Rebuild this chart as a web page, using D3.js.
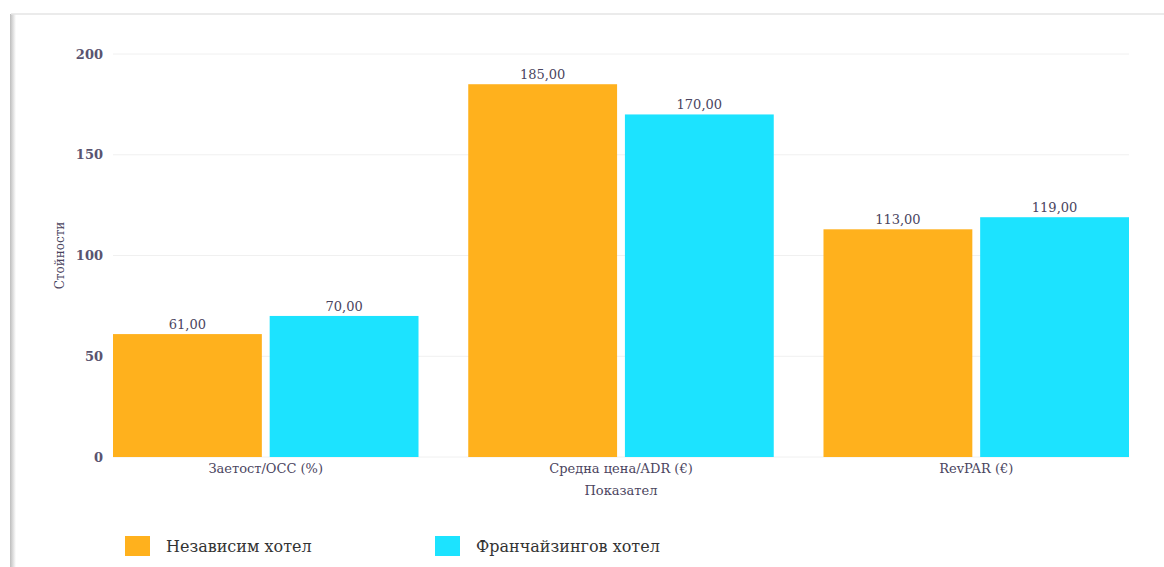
<!DOCTYPE html>
<html>
<head>
<meta charset="utf-8">
<script src="https://cdn.jsdelivr.net/npm/d3@7"></script>
<style>
  body { margin: 0; background: #fff; }
  svg text { font-family: "DejaVu Serif", serif; fill: #4b4560; }
</style>
</head>
<body>
<div id="chart"></div>
<script>
// Data
var categories = ["Заетост/OCC (%)", "Средна цена/ADR (€)", "RevPAR (€)"];
var seriesNames = ["Независим хотел", "Франчайзингов хотел"];
var independent = [61, 185, 113];
var franchise = [70, 170, 119];
var yTicks = [0, 50, 100, 150, 200];
var colors = ["#ffb11d", "#1ce3ff"];

var width = 1164, height = 567;
var margin = {left: 113, right: 35, top: 54, bottom: 110};

var svg = d3.select("#chart").append("svg")
    .attr("width", width)
    .attr("height", height);

// Frame of the card (top and left edges)
var defs = svg.append("defs");
var grad = defs.append("linearGradient").attr("id", "shadow");
grad.append("stop").attr("offset", "0%").attr("stop-color", "#bdbdbd");
grad.append("stop").attr("offset", "100%").attr("stop-color", "#ffffff");
svg.append("rect").attr("x", 10).attr("y", 14).attr("width", 6).attr("height", height - 14)
    .attr("fill", "url(#shadow)");
svg.append("line").attr("x1", 11).attr("x2", width).attr("y1", 14).attr("y2", 14)
    .attr("stroke", "#e4e4e4").attr("stroke-width", 1.5);

var rows = categories.map(function(c, i) {
  return {category: c, values: [independent[i], franchise[i]]};
});

var x0 = d3.scaleBand()
    .domain(categories)
    .range([margin.left, width - margin.right])
    .paddingInner(0.14)
    .paddingOuter(0);

var x1 = d3.scaleBand()
    .domain([0, 1])
    .range([0, x0.bandwidth()])
    .paddingInner(0.05);

var y = d3.scaleLinear()
    .domain([0, 200])
    .range([height - margin.bottom, margin.top]);

// Grid lines
svg.append("g").selectAll("line")
    .data(yTicks)
    .enter().append("line")
    .attr("x1", margin.left)
    .attr("x2", width - margin.right)
    .attr("y1", function(d) { return y(d); })
    .attr("y2", function(d) { return y(d); })
    .attr("stroke", "#f0f0f0")
    .attr("stroke-width", 1);

// Y tick labels
svg.append("g").selectAll("text")
    .data(yTicks)
    .enter().append("text")
    .attr("x", 103)
    .attr("y", function(d) { return y(d); })
    .attr("dy", "0.35em")
    .attr("text-anchor", "end")
    .attr("font-size", 13)
    .attr("font-weight", "bold")
    .style("fill", "#5a5470")
    .text(function(d) { return d; });

// Bars
var groups = svg.append("g").selectAll("g")
    .data(rows)
    .enter().append("g")
    .attr("transform", function(d) { return "translate(" + x0(d.category) + ",0)"; });

groups.selectAll("rect")
    .data(function(d) { return d.values; })
    .enter().append("rect")
    .attr("x", function(d, i) { return x1(i); })
    .attr("y", function(d) { return y(d); })
    .attr("width", x1.bandwidth())
    .attr("height", function(d) { return y(0) - y(d); })
    .attr("fill", function(d, i) { return colors[i]; });

groups.selectAll("text")
    .data(function(d) { return d.values; })
    .enter().append("text")
    .attr("x", function(d, i) { return x1(i) + x1.bandwidth() / 2; })
    .attr("y", function(d) { return y(d) - 5; })
    .attr("text-anchor", "middle")
    .attr("font-size", 13)
    .text(function(d) { return d3.format(".2f")(d).replace(".", ","); });

// X labels
svg.append("g").selectAll("text")
    .data(categories)
    .enter().append("text")
    .attr("x", function(d) { return x0(d) + x0.bandwidth() / 2; })
    .attr("y", y(0) + 16)
    .attr("text-anchor", "middle")
    .attr("font-size", 13)
    .text(function(d) { return d; });

// Axis titles
svg.append("text")
    .attr("x", (margin.left + width - margin.right) / 2)
    .attr("y", 495)
    .attr("text-anchor", "middle")
    .attr("font-size", 13)
    .text("Показател");

svg.append("text")
    .attr("transform", "translate(64," + y(100) + ") rotate(-90)")
    .attr("text-anchor", "middle")
    .attr("font-size", 12)
    .text("Стойности");

// Legend
var legendX = [125, 435];
var legend = svg.append("g").selectAll("g")
    .data(seriesNames)
    .enter().append("g")
    .attr("transform", function(d, i) { return "translate(" + legendX[i] + ",536)"; });

legend.append("rect")
    .attr("width", 25)
    .attr("height", 20)
    .attr("fill", function(d, i) { return colors[i]; });

legend.append("text")
    .attr("x", 41)
    .attr("y", 10)
    .attr("dy", "0.35em")
    .attr("font-size", 16)
    .style("fill", "#333")
    .text(function(d) { return d; });
</script>
</body>
</html>
